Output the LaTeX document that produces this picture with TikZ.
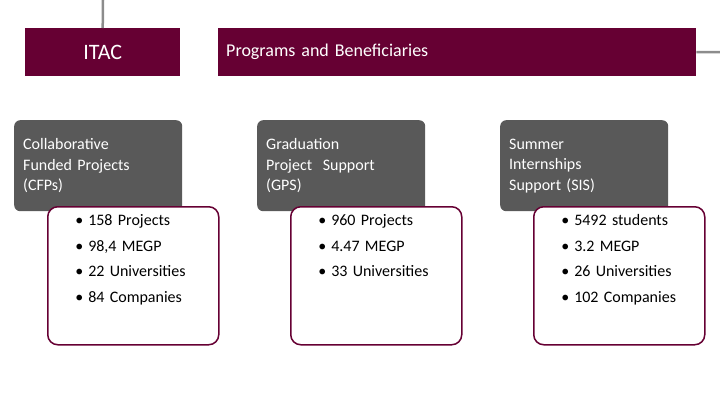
\documentclass[tikz,border=0pt]{standalone}
\usepackage{fontspec}
\setmainfont{Carlito}
\usetikzlibrary{positioning}
\definecolor{maroon}{HTML}{660033}
\definecolor{boxgray}{HTML}{595959}
\definecolor{linegray}{HTML}{8C8C8C}
\tikzset{
  headbox/.style={fill=maroon, text=white, minimum height=48pt, inner sep=0pt},
  progbox/.style={fill=boxgray, text=white, rounded corners=6pt, minimum width=168pt, minimum height=91pt,
    text width=150pt, align=left, font=\fontsize{16}{20.5}\selectfont, anchor=north west, inner sep=9pt},
  factbox/.style={draw=maroon, line width=1.5pt, fill=white, rounded corners=10pt, minimum width=171pt,
    minimum height=138pt, text width=140pt, align=left, anchor=north west, inner sep=0pt,
    font=\fontsize{16}{25.5}\selectfont},
  connector/.style={draw=linegray, line width=2.5pt}
}
\newcommand{\facts}[1]{\begin{minipage}[t][126pt][t]{140pt}\vspace{2pt}\begin{itemize}\setlength{\itemsep}{0pt}\setlength{\parskip}{0pt}\setlength{\leftmargin}{22pt}#1\end{itemize}\end{minipage}}
\begin{document}
\begin{tikzpicture}[x=1pt,y=-1pt]
    \useasboundingbox (0,0) rectangle (720,405);
    % Header row
    \node[headbox, minimum width=155pt, font=\fontsize{22}{24}\selectfont, anchor=north west] (itac) at (25,28) {ITAC};
    \node[headbox, minimum width=478pt, font=\fontsize{18}{20}\selectfont, anchor=north west,
      text width=462pt, align=left] (prog) at (218,28) {Programs and Beneficiaries};
    \coordinate (top) at (103,0);
    \coordinate (right) at (720,52);
    \draw[connector] (top) -- (itac.north);
    \draw[connector] (prog.east) -- (right);

    % Programs
    \node[progbox] (cfp) at (14,120) {Collaborative\\Funded Projects\\(CFPs)};
    \node[progbox] (gps) at (257,120) {Graduation\\Project~ Support\\(GPS)};
    \node[progbox] (sis) at (500,120) {Summer\\Internships\\Support (SIS)};

    % Figures
    \node[factbox] (cfpfacts) at (47,206) {\facts{\item 158 Projects \item 98,4 MEGP \item 22 Universities \item 84 Companies}};
    \node[factbox] (gpsfacts) at (290,206) {\facts{\item 960 Projects \item 4.47 MEGP \item 33 Universities}};
    \node[factbox] (sisfacts) at (533,206) {\facts{\item 5492 students \item 3.2 MEGP \item 26 Universities \item 102 Companies}};
\end{tikzpicture}
\end{document}
